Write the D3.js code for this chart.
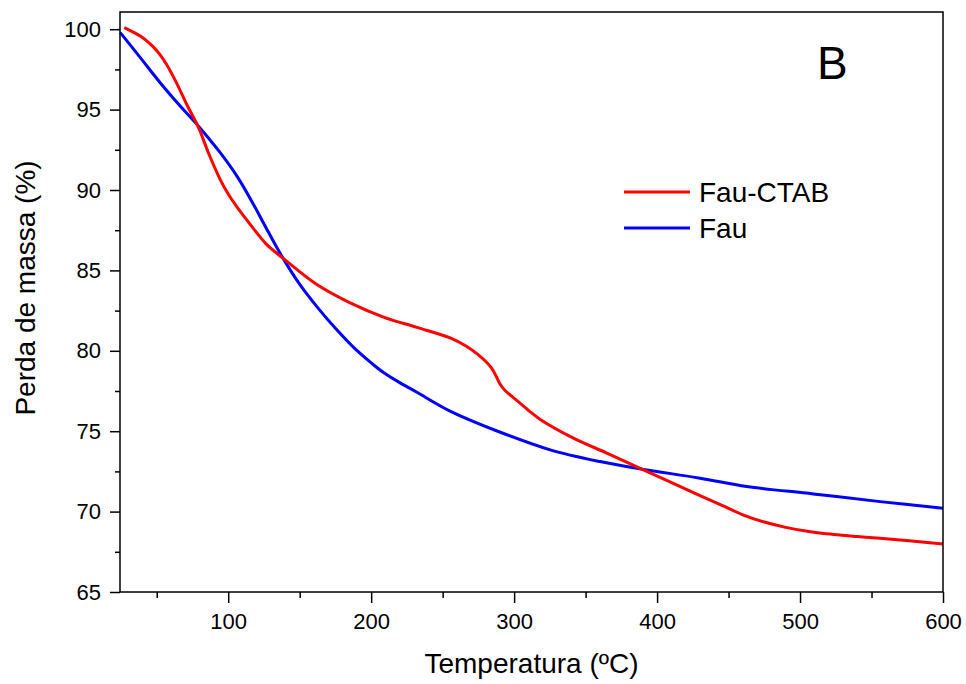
<!DOCTYPE html>
<html>
<head>
<meta charset="utf-8">
<script src="https://cdn.jsdelivr.net/npm/d3@7"></script>
<style>
  body { margin: 0; background: #fff; }
  text { font-family: "Liberation Sans", Arial, sans-serif; fill: #000; }
</style>
</head>
<body>
<script>
// data (temperature in ºC, mass in %)
var ctabTemp = [27.3, 32.9, 38.5, 43, 47.6, 52, 57.1, 64.1, 71.1, 79.2, 86.2, 94.4, 100, 106.1, 112, 117.7, 127, 138.7, 162.0, 185.3, 208.6, 232.0, 255.2, 266.9, 275, 280, 284, 287, 290, 294, 298, 302, 310, 318, 341.5, 364.8, 389.3, 430, 445, 460, 475, 490, 505, 521, 540, 556, 600];
var ctabMass = [100.1, 99.85, 99.58, 99.28, 98.9, 98.45, 97.78, 96.62, 95.3, 93.9, 92.3, 90.65, 89.75, 88.95, 88.25, 87.6, 86.6, 85.73, 84.12, 82.98, 82.10, 81.46, 80.80, 80.27, 79.75, 79.35, 78.95, 78.5, 77.95, 77.5, 77.2, 76.9, 76.3, 75.75, 74.57, 73.64, 72.64, 71.0, 70.4, 69.8, 69.35, 69.02, 68.78, 68.6, 68.45, 68.34, 67.99];

var fauTemp = [24.5, 38.5, 52.4, 66.4, 79.2, 94.4, 106.1, 117.7, 128, 138.7, 150.3, 162, 175, 189, 200, 208.6, 220, 232, 255.2, 289.0, 325.2, 360.1, 389.3, 430.1, 462.7, 509.3, 556.0, 600];
var fauMass = [99.79, 98.23, 96.67, 95.22, 93.97, 92.32, 90.86, 89.1, 87.4, 85.7, 84.1, 82.75, 81.4, 80.1, 79.25, 78.65, 78.02, 77.42, 76.25, 74.98, 73.84, 73.11, 72.64, 72.08, 71.56, 71.10, 70.62, 70.21];

var seriesNames = ["Fau-CTAB", "Fau"];
var seriesColors = ["#ff0000", "#0000ff"];

var xTicks = [100, 200, 300, 400, 500, 600];
var xMinor = [50, 150, 250, 350, 450, 550];
var yTicks = [65, 70, 75, 80, 85, 90, 95, 100];
var yMinor = [67.5, 72.5, 77.5, 82.5, 87.5, 92.5, 97.5];

var W = 966, H = 684;
var margin = {top: 12, right: 23, bottom: 92, left: 120};

var svg = d3.select("body").append("svg")
    .attr("width", W)
    .attr("height", H);

var x = d3.scaleLinear().domain([24.3, 600]).range([margin.left, W - margin.right]);
var y = d3.scaleLinear().domain([65, 101.07]).range([H - margin.bottom, margin.top]);

function zip(a, b){
    return a.map(function(d, i){ return [d, b[i]]; });
}

var line = d3.line()
    .x(function(d){ return x(d[0]); })
    .y(function(d){ return y(d[1]); })
    .curve(d3.curveCatmullRom.alpha(0.5));

var series = [zip(ctabTemp, ctabMass), zip(fauTemp, fauMass)];

// curves, blue under red
svg.append("g").selectAll("path")
    .data([1, 0])
    .enter().append("path")
    .attr("d", function(i){ return line(series[i]); })
    .attr("fill", "none")
    .attr("stroke", function(i){ return seriesColors[i]; })
    .attr("stroke-width", 3)
    .attr("stroke-linejoin", "round");

// axes
svg.append("g")
    .attr("transform", "translate(0," + (H - margin.bottom) + ")")
    .call(d3.axisBottom(x).tickValues(xTicks).tickSize(11).tickPadding(10).tickSizeOuter(0));
svg.append("g")
    .attr("transform", "translate(0," + (H - margin.bottom) + ")")
    .call(d3.axisBottom(x).tickValues(xMinor).tickSize(6).tickFormat("").tickSizeOuter(0));

svg.append("g")
    .attr("transform", "translate(" + margin.left + ",0)")
    .call(d3.axisLeft(y).tickValues(yTicks).tickSize(10).tickPadding(9).tickSizeOuter(0));
svg.append("g")
    .attr("transform", "translate(" + margin.left + ",0)")
    .call(d3.axisLeft(y).tickValues(yMinor).tickSize(5).tickFormat("").tickSizeOuter(0));

svg.selectAll(".domain").remove();
svg.selectAll(".tick line").attr("stroke", "#000").attr("stroke-width", 1.5);
svg.selectAll(".tick text").style("font-size", "22px").attr("font-family", null);

// frame
svg.append("rect")
    .attr("x", margin.left)
    .attr("y", margin.top)
    .attr("width", W - margin.left - margin.right)
    .attr("height", H - margin.top - margin.bottom)
    .attr("fill", "none")
    .attr("stroke", "#000")
    .attr("stroke-width", 1.5);

// titles
svg.append("text")
    .attr("x", (margin.left + W - margin.right) / 2)
    .attr("y", 673)
    .attr("text-anchor", "middle")
    .style("font-size", "28px")
    .text("Temperatura (ºC)");

svg.append("text")
    .attr("transform", "translate(35,288) rotate(-90)")
    .attr("text-anchor", "middle")
    .style("font-size", "28px")
    .text("Perda de massa (%)");

svg.append("text")
    .attr("x", 817)
    .attr("y", 79)
    .style("font-size", "46px")
    .text("B");

// legend
var legend = svg.append("g").selectAll("g")
    .data(seriesNames)
    .enter().append("g")
    .attr("transform", function(d, i){ return "translate(624," + (192 + i * 36) + ")"; });

legend.append("line")
    .attr("x1", 0).attr("x2", 66)
    .attr("y1", 0).attr("y2", 0)
    .attr("stroke", function(d, i){ return seriesColors[i]; })
    .attr("stroke-width", 3);

legend.append("text")
    .attr("x", 75)
    .attr("y", 10)
    .style("font-size", "28px")
    .text(function(d){ return d; });
</script>
</body>
</html>
